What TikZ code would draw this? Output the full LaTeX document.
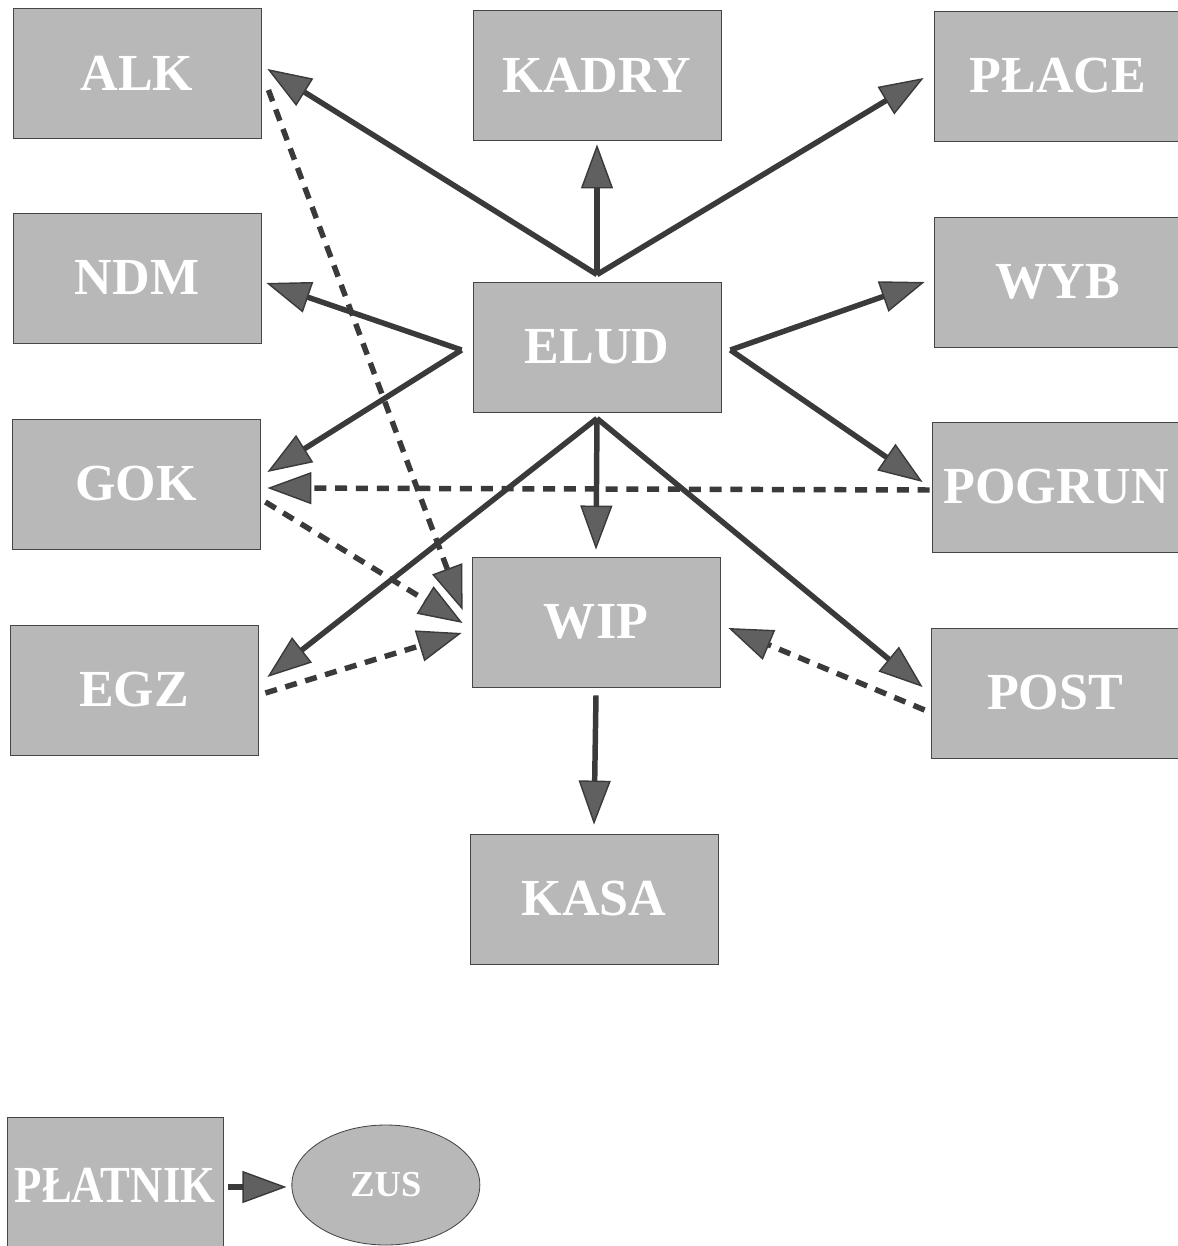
\documentclass[tikz,border=0pt]{standalone}
\usepackage{fontspec}
\setmainfont{Liberation Serif}
\usetikzlibrary{arrows.meta, positioning, shapes.geometric}
\definecolor{boxgray}{RGB}{184,184,184}
\definecolor{edgegray}{RGB}{70,70,70}
\definecolor{linegray}{RGB}{58,58,58}
\definecolor{tipgray}{RGB}{96,96,96}

\begin{document}
\begin{tikzpicture}[
  modbox/.style={draw=edgegray, line width=0.6pt, fill=boxgray, minimum width=6.2cm, minimum height=3.25cm, text=white, font=\fontsize{37}{40}\selectfont\bfseries},
  flow/.style={draw=linegray, line width=3.9pt, -{Triangle[length=1.1cm, width=0.8cm, fill=tipgray, line width=1pt]}},
  dflow/.style={flow, dash pattern=on 0.3cm off 0.22cm},
]
\useasboundingbox (0,0) rectangle (29.45,-31.15);
% left column
\node[modbox] (alk) at (3.425,-1.825) {ALK};
\node[modbox] (ndm) at (3.425,-6.95) {NDM};
\node[modbox] (gok) at (3.4,-12.1) {GOK};
\node[modbox] (egz) at (3.35,-17.25) {EGZ};
% middle column
\node[modbox] (kadry) at (14.925,-1.875) {KADRY};
\node[modbox] (elud) at (14.925,-8.675) {ELUD};
\node[modbox] (wip) at (14.9,-15.55) {WIP};
\node[modbox] (kasa) at (14.85,-22.475) {KASA};
% right column
\node[modbox] (place) at (26.45,-1.9) {PŁACE};
\node[modbox] (wyb) at (26.45,-7.05) {WYB};
\node[modbox] (pogrun) at (26.4,-12.175) {POGRUN};
\node[modbox] (post) at (26.375,-17.325) {POST};
% bottom pair
\node[modbox, minimum width=5.4cm, minimum height=3.4cm] (platnik) at (2.875,-29.625) {\scalebox{0.86}[1]{PŁATNIK}};
\node[modbox, ellipse, minimum width=4.7cm, minimum height=3cm, font=\fontsize{26}{28}\selectfont\bfseries, right=1.7cm of platnik] (zus) {ZUS};

% fan-out points round ELUD
\coordinate (eN) at ([yshift=1.75mm]elud.north);
\coordinate (eW) at ([shift={(-2.75mm,-0.75mm)}]elud.west);
\coordinate (eE) at ([shift={(2.25mm,-0.75mm)}]elud.east);
\coordinate (eS) at ([yshift=-1.5mm]elud.south);

\draw[flow] (eN) -- ([shift={(1.5mm,1mm)}]alk.east);
\draw[flow] (eN) -- ([yshift=-1mm]kadry.south);
\draw[flow] (eN) -- ([shift={(-2.5mm,-0.5mm)}]place.west);
\draw[flow] (eW) -- ([shift={(1.25mm,-1.25mm)}]ndm.east);
\draw[flow] (eW) -- ([shift={(1.75mm,3mm)}]gok.east);
\draw[flow] (eE) -- ([shift={(-2.25mm,0mm)}]wyb.west);
\draw[flow] (eE) -- ([shift={(-2.25mm,1.25mm)}]pogrun.west);
\draw[flow] (eS) -- ([shift={(2.25mm,3.25mm)}]egz.east);
\draw[flow] (eS) -- ([yshift=1.75mm]wip.north);
\draw[flow] (eS) -- ([shift={(-2mm,1.5mm)}]post.west);
\draw[flow] ([yshift=-2mm]wip.south) -- ([yshift=2.25mm]kasa.north);

% dashed feeds
\draw[dflow] ([shift={(1.75mm,-4.25mm)}]alk.east) -- ([shift={(-2.25mm,3mm)}]wip.west);
\draw[dflow] ([shift={(-0.5mm,-0.75mm)}]pogrun.west) -- ([shift={(1.75mm,-1mm)}]gok.east);
\draw[dflow] ([shift={(1.25mm,-4.5mm)}]gok.east) -- ([shift={(-2.25mm,-0.25mm)}]wip.west);
\draw[dflow] ([shift={(1.75mm,-0.75mm)}]egz.east) -- ([shift={(-2.5mm,-2.75mm)}]wip.west);
\draw[dflow] ([shift={(-1.5mm,-4.25mm)}]post.west) -- ([shift={(2mm,-1.5mm)}]wip.east);

\draw[flow] ([shift={(1.25mm,-0.5mm)}]platnik.east) -- ([shift={(-1.25mm,-0.5mm)}]zus.west);
\end{tikzpicture}
\end{document}
